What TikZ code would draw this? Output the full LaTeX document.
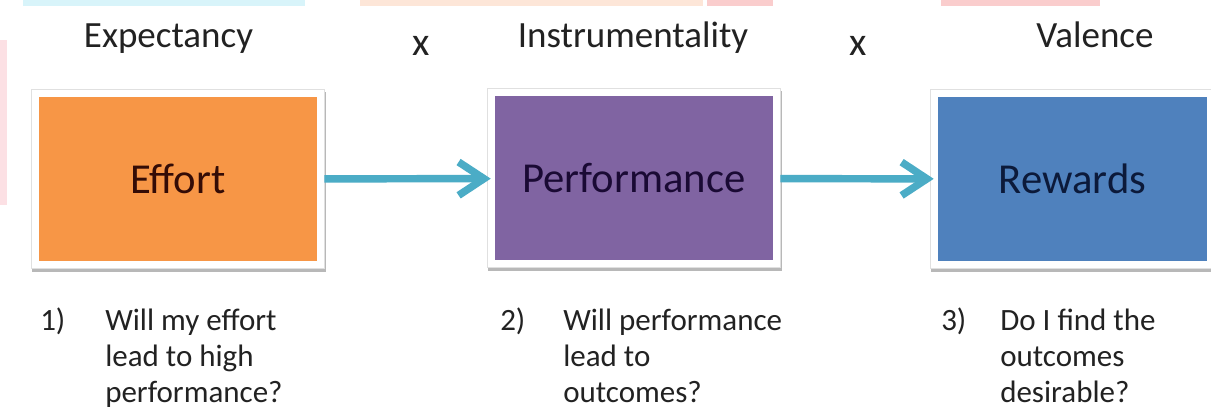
\documentclass[tikz,border=0pt]{standalone}
\usepackage{fontspec}
\setmainfont{Carlito}
\newfontfamily\headfont{Carlito}
\usepackage{tikz}
\usetikzlibrary{arrows.meta, positioning}
\definecolor{effortfill}{HTML}{F79646}
\definecolor{perffill}{HTML}{8064A2}
\definecolor{rewardfill}{HTML}{4F81BD}
\definecolor{flowline}{HTML}{4BACC6}
\definecolor{inktext}{HTML}{222222}
\definecolor{efforttext}{RGB}{52,12,6}
\definecolor{perftext}{RGB}{26,10,52}
\definecolor{rewardtext}{RGB}{12,26,58}
\definecolor{bandcyan}{RGB}{216,244,250}
\definecolor{bandpeach}{RGB}{253,230,216}
\definecolor{bandpink}{RGB}{250,205,205}
\definecolor{stripepink}{RGB}{252,224,228}

\begin{document}
\begin{tikzpicture}
    [
        x=0.75pt, y=-0.75pt,
        box/.style={rectangle, inner sep=0, minimum width=208.5pt, minimum height=123pt,
            preaction={draw=black!28, line width=12pt, transform canvas={xshift=0.6pt, yshift=-2.2pt}},
            preaction={draw=black!12, line width=12pt},
            preaction={draw=white, line width=10.5pt},
            font=\fontsize{32}{38}\selectfont},
        heading/.style={anchor=base, inner sep=0, text=inktext, font=\headfont\fontsize{27.75}{33}\selectfont},
        times/.style={anchor=base, inner sep=0, text=inktext, font=\fontsize{30}{36}\selectfont},
        question/.style={anchor=base west, inner sep=0, text=inktext, font=\fontsize{23.25}{27}\selectfont},
        flow/.style={draw=flowline, line width=5.6pt, -{Straight Barb[length=19pt, width=25pt]},
            shorten <=5.25pt, shorten >=3pt},
    ]
    \useasboundingbox (0,0) rectangle (1211,416);
    \fill[white] (0,0) rectangle (1211,416);
    \fill[bandcyan] (23,0) rectangle (305,6);
    \fill[bandpeach] (360,0) rectangle (703,6);
    \fill[bandpink] (707,0) rectangle (773,6);
    \fill[bandpink] (941,0) rectangle (1100,6);
    \fill[stripepink] (0,40) rectangle (7,205);

    \node (expectancy) at (168.5,48) [heading] {Expectancy};
    \node (times1) at (421,56) [times] {x};
    \node (instrumentality) at (633,48) [heading] {Instrumentality};
    \node (times2) at (858,56) [times] {x};
    \node (valence) at (1095,48) [heading] {Valence};

    \node (effort) at (178,179) [box, fill=effortfill, text=efforttext] {Effort};
    \node (performance) at (634,178.5) [box, fill=perffill, text=perftext] {Performance};
    \node (rewards) at (1072.5,179) [box, fill=rewardfill, text=rewardtext, minimum width=201.75pt] {Rewards};

    \draw[flow] (effort) -- (performance);
    \draw[flow] (performance) -- (rewards);

    \node (num1) at (40,331) [question] {1)};
    \node (ask1) at (105,331) [question] {\parbox[t]{250pt}{Will my effort\\lead to high\\performance?}};
    \node (num2) at (500,331) [question] {2)};
    \node (ask2) at (563,331) [question] {\parbox[t]{250pt}{Will performance\\lead to\\outcomes?}};
    \node (num3) at (941,331) [question] {3)};
    \node (ask3) at (1000,331) [question] {\parbox[t]{250pt}{Do I find the\\outcomes\\desirable?}};
\end{tikzpicture}
\end{document}
